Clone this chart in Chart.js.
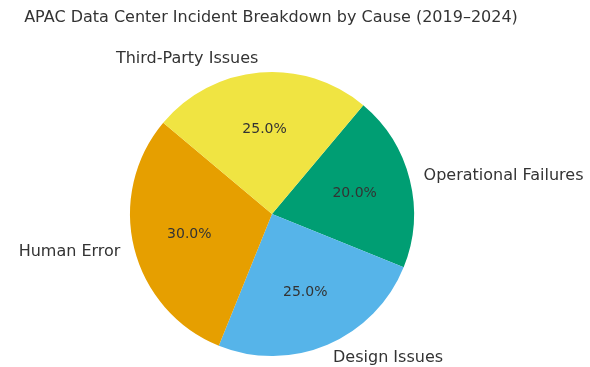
<!DOCTYPE html>
<html>
<head>
<meta charset="utf-8">
<script src="https://cdn.jsdelivr.net/npm/chart.js@4/dist/chart.umd.min.js"></script>
<style>
html,body{margin:0;padding:0;background:#fff;}
#wrap{position:relative;width:590px;height:367px;}
</style>
</head>
<body>
<div id="wrap"><canvas id="c" width="590" height="367"></canvas></div>
<script>
const title = "APAC Data Center Incident Breakdown by Cause (2019–2024)";
const categories = ["Operational Failures", "Design Issues", "Human Error", "Third-Party Issues"];
const shares = [20, 25, 30, 25];
const colors = ["#009E73", "#56B4E9", "#E69F00", "#F0E442"];

const FONT = "'DejaVu Sans', sans-serif";

const labelPlugin = {
  id: 'pieLabels',
  afterDatasetsDraw(chart) {
    const ctx = chart.ctx;
    const meta = chart.getDatasetMeta(0);
    const total = shares.reduce((a, b) => a + b, 0);
    ctx.save();
    meta.data.forEach((arc, i) => {
      const p = arc.getProps(['x', 'y', 'startAngle', 'endAngle', 'outerRadius'], true);
      const mid = (p.startAngle + p.endAngle) / 2;
      const cx = Math.cos(mid), cy = Math.sin(mid);
      // percentage
      ctx.font = "14px " + FONT;
      ctx.fillStyle = "#333";
      ctx.textAlign = "center";
      ctx.textBaseline = "middle";
      const pct = (shares[i] / total * 100).toFixed(1) + "%";
      ctx.fillText(pct, p.x + cx * p.outerRadius * 0.6, p.y + cy * p.outerRadius * 0.6);
      // category label
      ctx.font = "16px " + FONT;
      ctx.fillStyle = "#333";
      ctx.textAlign = cx >= 0 ? "left" : "right";
      ctx.fillText(categories[i], p.x + cx * p.outerRadius * 1.1, p.y + cy * p.outerRadius * 1.1);
    });
    ctx.font = "16px " + FONT;
    ctx.fillStyle = "#333";
    ctx.textAlign = "center";
    ctx.textBaseline = "middle";
    ctx.fillText(title, 271, 18);
    ctx.restore();
  }
};

new Chart(document.getElementById('c'), {
  type: 'pie',
  data: {
    labels: categories,
    datasets: [{
      data: shares,
      backgroundColor: colors,
      borderWidth: 0
    }]
  },
  options: {
    responsive: false,
    animation: false,
    rotation: 40,
    layout: { padding: { top: 72, bottom: 11, left: 0, right: 46 } },
    plugins: {
      legend: { display: false },
      tooltip: { enabled: false },
      title: { display: false }
    }
  },
  plugins: [labelPlugin]
});
</script>
</body>
</html>
